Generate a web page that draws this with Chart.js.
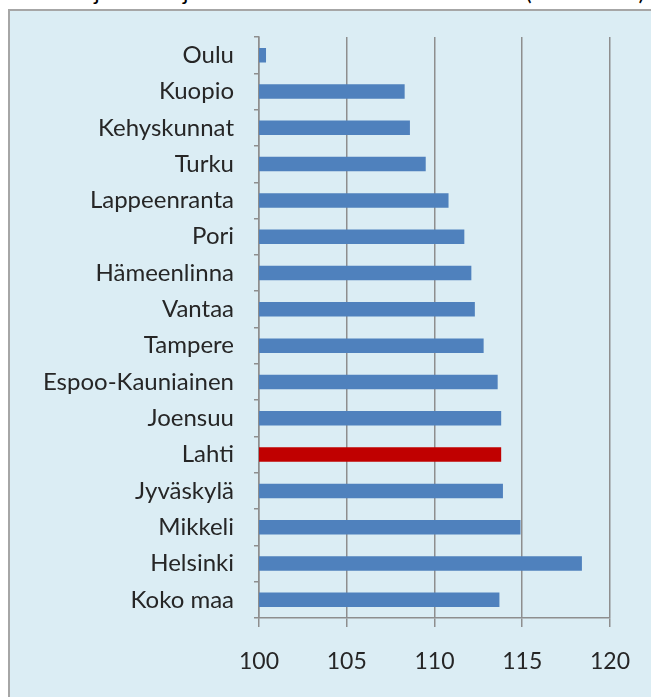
<!DOCTYPE html>
<html>
<head>
<meta charset="utf-8">
<script src="https://cdn.jsdelivr.net/npm/chart.js@4.4.1/dist/chart.umd.min.js"></script>
<style>
    html, body { margin: 0; padding: 0; background: #ffffff; overflow: hidden; }
    body { width: 651px; height: 697px; position: relative; font-family: Lato, sans-serif; }
    #title { position: absolute; left: 22px; top: -23px; font-size: 23px; line-height: 28px; color: #000; white-space: nowrap; }
    #panel { position: absolute; left: 8px; top: 9px; width: 700px; height: 720px;
        background: #dbedf4; border: 2px solid #a6a6a6; }
    #wrap { position: absolute; left: 0; top: 0; width: 651px; height: 697px; }
</style>
</head>
<body>
<div id="title">Asuntojen hintojen muutos alueittain 2005–2011 (2005=100)</div>
<div id="panel"></div>
<div id="wrap"><canvas id="chart"></canvas></div>
<script>
    'use strict';

    var categories = ['Oulu', 'Kuopio', 'Kehyskunnat', 'Turku', 'Lappeenranta', 'Pori',
        'Hämeenlinna', 'Vantaa', 'Tampere', 'Espoo-Kauniainen', 'Joensuu', 'Lahti',
        'Jyväskylä', 'Mikkeli', 'Helsinki', 'Koko maa'];
    var values = [100.4, 108.3, 108.6, 109.5, 110.8, 111.7, 112.1, 112.3, 112.8, 113.6,
        113.8, 113.8, 113.9, 114.9, 118.4, 113.7];
    var highlight = 'Lahti';
    var xTicks = [100, 105, 110, 115, 120];

    var blue = '#4f81bd', red = '#c00000', gridColor = '#8e8e8e', textColor = '#262626';

    var colors = categories.map(function (c) {
        return c === highlight ? red : blue;
    });

    new Chart(document.getElementById('chart'), {
        type: 'bar',
        data: {
            labels: categories,
            datasets: [{
                data: values,
                backgroundColor: colors,
                borderWidth: 0,
                categoryPercentage: 0.8,
                barPercentage: 0.5
            }]
        },
        options: {
            indexAxis: 'y',
            responsive: true,
            maintainAspectRatio: false,
            animation: false,
            layout: { padding: { top: 37, right: 39, bottom: 0, left: 0 } },
            plugins: {
                legend: { display: false },
                tooltip: { enabled: false }
            },
            scales: {
                x: {
                    min: 100,
                    max: 120,
                    afterBuildTicks: function (scale) {
                        scale.ticks = xTicks.map(function (v) { return { value: v }; });
                    },
                    afterFit: function (scale) { scale.height = 79; },
                    grid: { color: gridColor, lineWidth: 1.5, tickLength: 9, drawTicks: true },
                    border: { color: gridColor, width: 1.5 },
                    ticks: { color: textColor, font: { family: 'Lato', size: 23 }, padding: 21, maxRotation: 0 }
                },
                y: {
                    afterFit: function (scale) { scale.width = 259; },
                    grid: { drawOnChartArea: false, color: gridColor, lineWidth: 1.5, tickLength: 5, offset: true },
                    border: { color: gridColor, width: 1.5 },
                    ticks: { color: textColor, font: { family: 'Lato', size: 24 }, padding: 20, autoSkip: false }
                }
            }
        }
    });
</script>
</body>
</html>
